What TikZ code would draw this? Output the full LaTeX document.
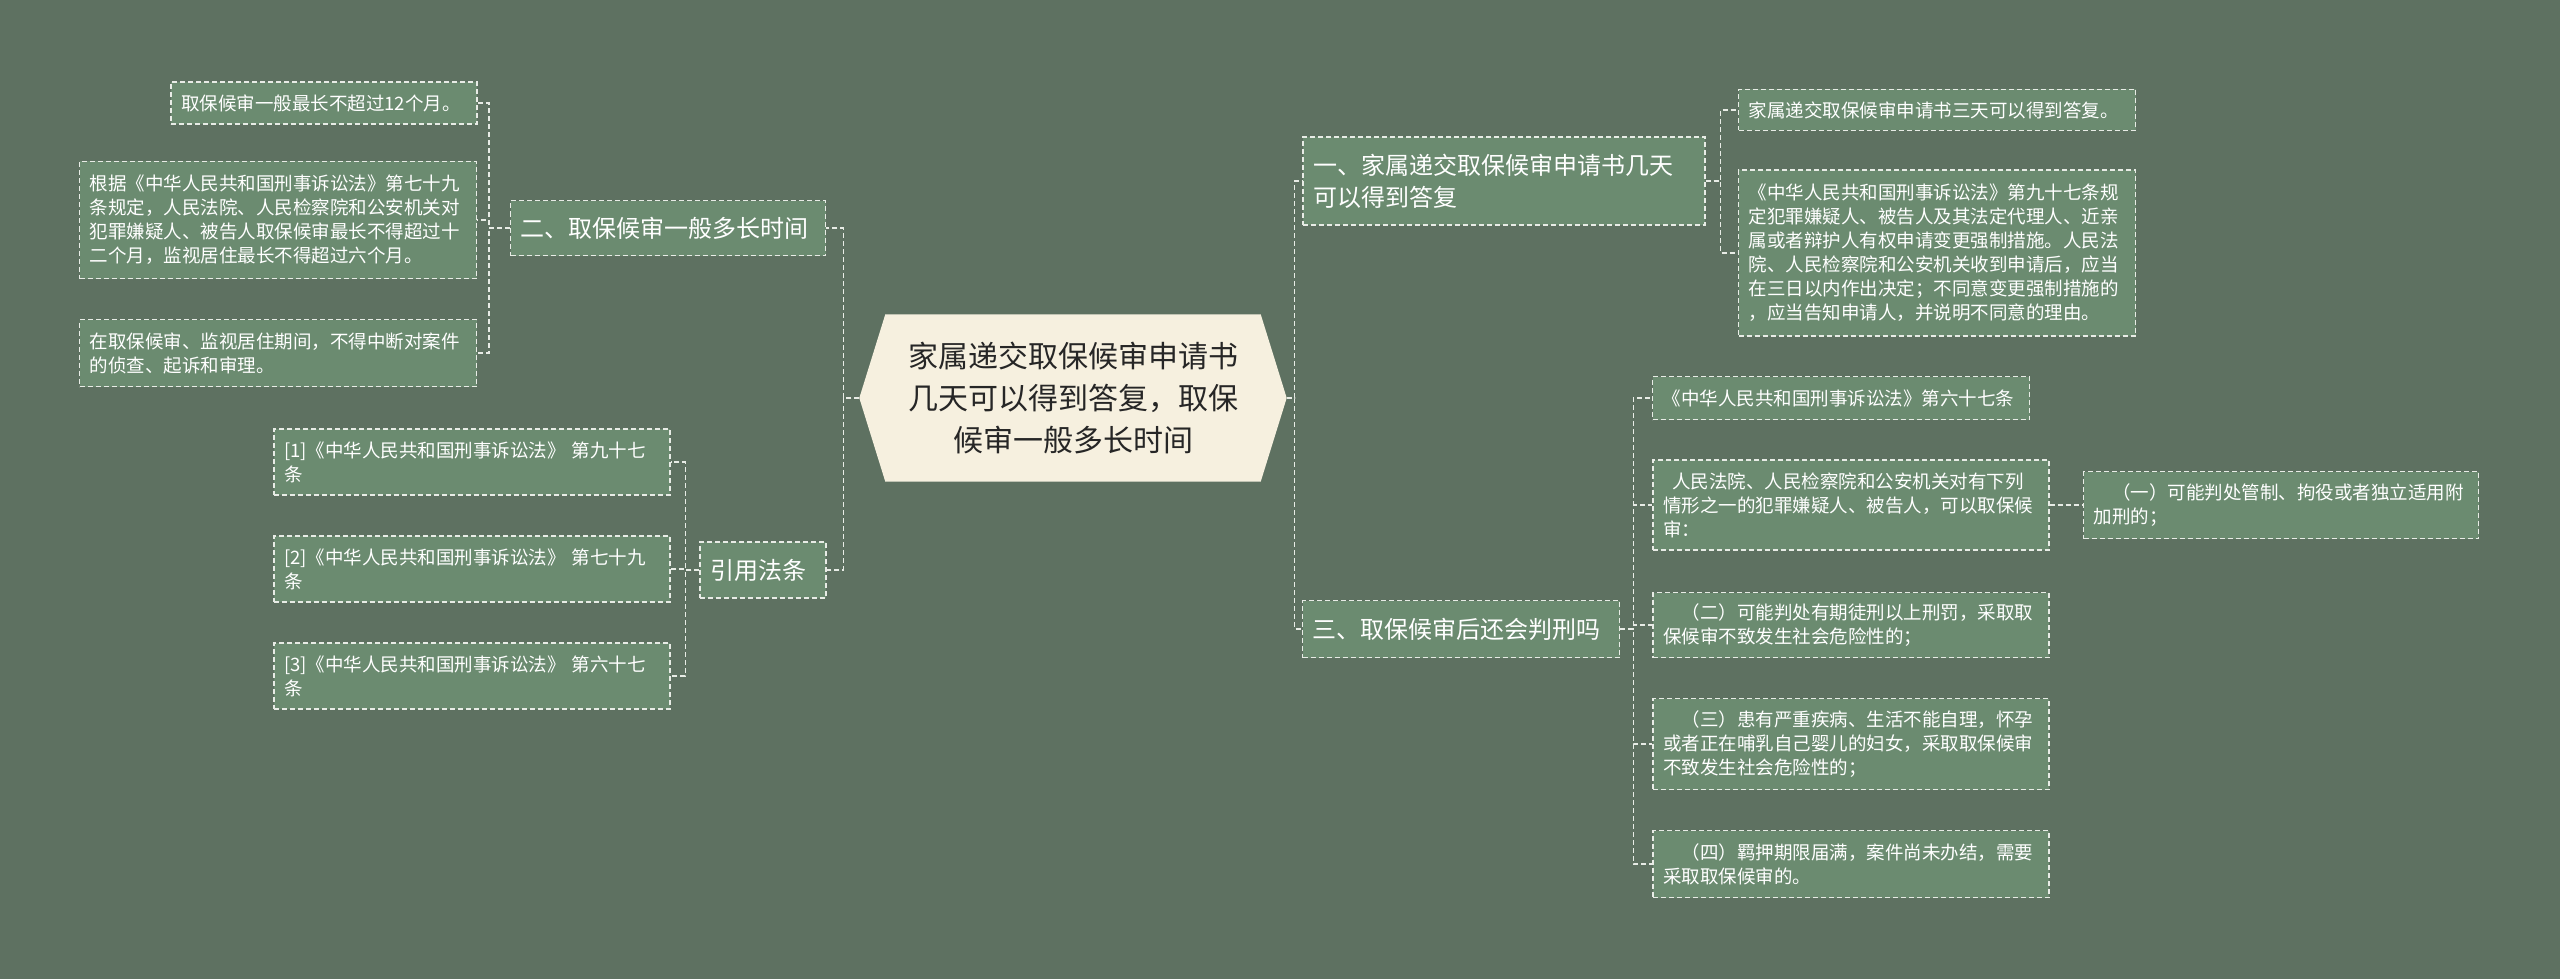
\documentclass[tikz,border=0pt]{standalone}
\usepackage{fontspec}
\newfontfamily\cjk{Noto Sans CJK SC}
\usetikzlibrary{backgrounds}
\definecolor{bgmap}{HTML}{5E7161}
\definecolor{leafgreen}{HTML}{6B8B70}
\definecolor{cream}{HTML}{F6F0DF}
\definecolor{dashwhite}{HTML}{E8ECE6}

\tikzset{
  box/.style={draw=dashwhite, dash pattern=on 5pt off 3pt, line width=1.4pt,
    fill=leafgreen, text=white, align=left, inner ysep=0pt, inner xsep=10pt},
  leaf/.style={box, font=\cjk\fontsize{18.5}{24}\selectfont},
  branch/.style={box, font=\cjk\fontsize{24}{32}\selectfont},
  link/.style={draw=dashwhite, dash pattern=on 5pt off 3pt, line width=1.4pt}
}

\begin{document}
\begin{tikzpicture}[x=1pt,y=-1pt]
  \useasboundingbox (0,0) rectangle (2560,979);

  % centre
  \node[font=\cjk\fontsize{30}{42}\selectfont, text=black!85, align=center,
        minimum width=427pt, minimum height=167pt] (root) at (1073,398)
        {家属递交取保候审申请书\\几天可以得到答复，取保\\候审一般多长时间};
  \begin{scope}[on background layer]
    \fill[bgmap] (0,0) rectangle (2560,979);
    \fill[cream] (root.west) -- ([xshift=26pt]root.north west) -- ([xshift=-26pt]root.north east)
      -- (root.east) -- ([xshift=-26pt]root.south east) -- ([xshift=26pt]root.south west) -- cycle;
  \end{scope}

  % branches
  \node[branch, text width=295pt, minimum height=55pt] (two) at (668,228) {二、取保候审一般多长时间};
  \node[branch, text width=106pt, minimum height=56pt] (cite) at (763,570) {引用法条};
  \node[branch, text width=382pt, minimum height=88pt] (one) at (1504,181) {一、家属递交取保候审申请书几天\\可以得到答复};
  \node[branch, text width=297pt, minimum height=57pt] (three) at (1461,629) {三、取保候审后还会判刑吗};

  % leaves left
  \node[leaf, text width=286pt, minimum height=42pt] (l1) at (324,103) {取保候审一般最长不超过12个月。};
  \node[leaf, text width=377pt, minimum height=117pt] (l2) at (278,220)
    {根据《中华人民共和国刑事诉讼法》第七十九\\条规定，人民法院、人民检察院和公安机关对\\犯罪嫌疑人、被告人取保候审最长不得超过十\\二个月，监视居住最长不得超过六个月。};
  \node[leaf, text width=377pt, minimum height=67pt] (l3) at (278,353)
    {在取保候审、监视居住期间，不得中断对案件\\的侦查、起诉和审理。};
  \node[leaf, text width=376pt, minimum height=66pt] (c1) at (472,462) {[1]《中华人民共和国刑事诉讼法》 第九十七\\条};
  \node[leaf, text width=376pt, minimum height=66pt] (c2) at (472,569) {[2]《中华人民共和国刑事诉讼法》 第七十九\\条};
  \node[leaf, text width=376pt, minimum height=66pt] (c3) at (472,676) {[3]《中华人民共和国刑事诉讼法》 第六十七\\条};

  % leaves right
  \node[leaf, text width=377pt, minimum height=41pt] (r1) at (1937,110) {家属递交取保候审申请书三天可以得到答复。};
  \node[leaf, text width=377pt, minimum height=166pt] (r2) at (1937,253)
    {《中华人民共和国刑事诉讼法》第九十七条规\\定犯罪嫌疑人、被告人及其法定代理人、近亲\\属或者辩护人有权申请变更强制措施。人民法\\院、人民检察院和公安机关收到申请后，应当\\在三日以内作出决定；不同意变更强制措施的\\，应当告知申请人，并说明不同意的理由。};
  \node[leaf, text width=357pt, minimum height=43pt] (r3) at (1841,398) {《中华人民共和国刑事诉讼法》第六十七条};
  \node[leaf, text width=376pt, minimum height=90pt] (r4) at (1851,505)
    {\hspace*{0.5em}人民法院、人民检察院和公安机关对有下列\\情形之一的犯罪嫌疑人、被告人，可以取保候\\审：};
  \node[leaf, text width=375pt, minimum height=67pt] (r4a) at (2281,505)
    {\hspace*{1em}（一）可能判处管制、拘役或者独立适用附\\加刑的；};
  \node[leaf, text width=376pt, minimum height=65pt] (r5) at (1851,625)
    {\hspace*{1em}（二）可能判处有期徒刑以上刑罚，采取取\\保候审不致发生社会危险性的；};
  \node[leaf, text width=376pt, minimum height=91pt] (r6) at (1851,744)
    {\hspace*{1em}（三）患有严重疾病、生活不能自理，怀孕\\或者正在哺乳自己婴儿的妇女，采取取保候审\\不致发生社会危险性的；};
  \node[leaf, text width=376pt, minimum height=67pt] (r7) at (1851,864)
    {\hspace*{1em}（四）羁押期限届满，案件尚未办结，需要\\采取取保候审的。};

  % connectors
  \foreach \n in {two,cite} \draw[link] (root.west) -- ++(-16,0) |- (\n.east);
  \foreach \n in {one,three} \draw[link] (root.east) -- ++(8,0) |- (\n.west);
  \foreach \n in {l1,l2,l3} \draw[link] (two.west) -- ++(-21,0) |- (\n.east);
  \foreach \n in {c1,c2,c3} \draw[link] (cite.west) -- ++(-14,0) |- (\n.east);
  \foreach \n in {r1,r2} \draw[link] (one.east) -- ++(15,0) |- (\n.west);
  \foreach \n in {r3,r4,r5,r6,r7} \draw[link] (three.east) -- ++(13,0) |- (\n.west);
  \draw[link] (r4.east) -- (r4a.west);
\end{tikzpicture}
\end{document}
